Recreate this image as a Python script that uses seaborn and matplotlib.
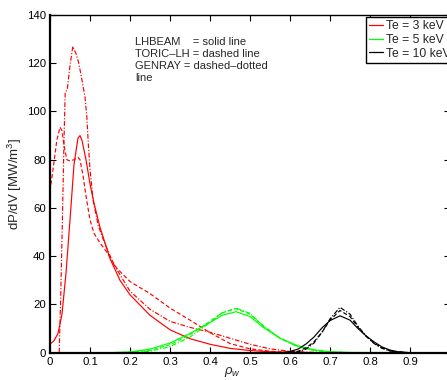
import numpy as np
import pandas as pd
import matplotlib
matplotlib.use('Agg')
import matplotlib.pyplot as plt
import seaborn as sns
from matplotlib.lines import Line2D

# Te = 3 keV (red)
rho_3_lhbeam = [0, 0.01, 0.02, 0.03, 0.04, 0.05, 0.06, 0.07, 0.075, 0.08, 0.09, 0.1, 0.11, 0.125,
                0.15, 0.175, 0.2, 0.25, 0.3, 0.35, 0.4, 0.45, 0.5, 0.55, 0.6, 0.65, 0.7, 1.0]
p_3_lhbeam = [3.5, 5, 8, 16, 33, 55, 78, 89, 90, 88, 80, 70, 62, 52,
              39, 30, 24, 15.5, 9.5, 5.8, 3.5, 1.8, 0.9, 0.4, 0.15, 0.05, 0, 0]

rho_3_toric = [0, 0.01, 0.017, 0.025, 0.03, 0.035, 0.042, 0.05, 0.06, 0.07, 0.075, 0.083, 0.09,
               0.1, 0.11, 0.125, 0.145, 0.167, 0.2, 0.25, 0.3, 0.35, 0.4, 0.45, 0.5, 0.55, 0.6, 0.65, 1.0]
p_3_toric = [67, 79, 88, 93.5, 92, 86, 80, 79.5, 80, 81, 80, 73, 65,
             55, 49.5, 45.5, 41, 35, 29.5, 24.5, 18.5, 13.5, 8.3, 3.8, 1.6, 0.6, 0.1, 0, 0]

rho_3_genray = [0, 0.023, 0.027, 0.031, 0.035, 0.038, 0.043, 0.05, 0.057, 0.065, 0.072, 0.08, 0.0875,
                0.092, 0.096, 0.1, 0.108, 0.12, 0.133, 0.158, 0.2, 0.25, 0.3, 0.35, 0.4, 0.45, 0.5,
                0.55, 0.6, 0.65, 0.7, 1.0]
p_3_genray = [0, 0, 25, 55, 88, 108, 109, 119, 127, 124, 120, 113, 106,
              98, 86, 76, 63, 53, 47, 37, 25.5, 18, 13, 10.5, 8.5, 6, 3.5,
              1.6, 0.6, 0.2, 0, 0]

# Te = 5 keV (green)
rho_5 = [0, 0.15, 0.2, 0.25, 0.3, 0.35, 0.4, 0.43, 0.465, 0.5, 0.533, 0.575, 0.617, 0.66, 0.7, 0.75, 1.0]
p_5_lhbeam = [0, 0, 0.3, 1.5, 4, 8, 12.5, 15.5, 17, 15, 10.5, 6, 3, 1.2, 0.4, 0.1, 0]
p_5_toric = [0, 0, 0.2, 1, 3.3, 7.5, 13, 16.5, 18.3, 16, 11, 6, 2.8, 1, 0.3, 0.05, 0]
p_5_genray = [0, 0, 0.1, 0.6, 2.5, 6.5, 12.5, 16.5, 18.5, 16.3, 11.2, 6, 2.6, 0.9, 0.2, 0, 0]

# Te = 10 keV (black)
rho_10 = [0, 0.58, 0.6, 0.62, 0.64, 0.66, 0.68, 0.7, 0.725, 0.75, 0.77, 0.79, 0.81, 0.83, 0.85, 0.87, 0.9, 1.0]
p_10_lhbeam = [0, 0, 0.5, 1.5, 3.6, 6.5, 10.3, 13.3, 15.3, 13.5, 10, 7, 4.5, 2.4, 1.1, 0.4, 0, 0]
p_10_toric = [0, 0, 0.1, 0.6, 2, 4.5, 8.5, 13.5, 17.5, 15, 10.5, 6.8, 4, 2, 0.8, 0.3, 0, 0]
p_10_genray = [0, 0, 0, 0.3, 1.5, 4, 8.5, 14, 18.8, 16, 11, 7, 3.8, 1.8, 0.7, 0.2, 0, 0]

legend_labels = ['Te = 3 keV', 'Te = 5 keV', 'Te = 10 keV']
colors = ['#ff0000', '#00ff00', '#000000']

sns.set_style('ticks')
plt.rcParams['font.family'] = ['Liberation Sans', 'DejaVu Sans']
plt.rcParams['mathtext.fontset'] = 'custom'
plt.rcParams['mathtext.rm'] = 'Liberation Sans'
plt.rcParams['mathtext.it'] = 'Liberation Sans:italic'
fs = 8.2

fig = plt.figure(figsize=(4.47, 3.8), dpi=100)
ax = fig.add_axes([50 / 447, 27.3 / 380, 400 / 447, 337.7 / 380])

dash = (0, (3.5, 2))
dashdot = (0, (4, 1.5, 1, 1.5))
lw = 0.85

series = [
    (rho_3_lhbeam, p_3_lhbeam, colors[0], '-'),
    (rho_3_toric, p_3_toric, colors[0], dash),
    (rho_3_genray, p_3_genray, colors[0], dashdot),
    (rho_5, p_5_lhbeam, colors[1], '-'),
    (rho_5, p_5_toric, colors[1], dash),
    (rho_5, p_5_genray, colors[1], dashdot),
    (rho_10, p_10_lhbeam, colors[2], '-'),
    (rho_10, p_10_toric, colors[2], dash),
    (rho_10, p_10_genray, colors[2], dashdot),
]
for x, y, c, ls in series:
    sns.lineplot(x=x, y=y, ax=ax, color=c, linestyle=ls, linewidth=lw, sort=False,
                 estimator=None, legend=False)

ax.set_xlim(0, 1)
ax.set_ylim(0, 140)
ax.set_xticks(np.arange(0, 1.01, 0.1))
ax.set_xticklabels(['0', '0.1', '0.2', '0.3', '0.4', '0.5', '0.6', '0.7', '0.8', '0.9', ''])
ax.set_yticks(np.arange(0, 141, 20))
ax.tick_params(direction='in', length=4, width=0.8, top=True, right=True,
               labelsize=fs, colors='black', pad=3)
for s in ax.spines.values():
    s.set_linewidth(1.0)
    s.set_color('black')
ax.spines['left'].set_linewidth(1.6)
ax.spines['bottom'].set_linewidth(1.6)

ax.set_ylabel('dP/dV [MW/m$^3$]', fontsize=9.5)
ax.yaxis.set_label_coords(-0.065, 0.5)
ax.set_xlabel(r'$\rho_w$', fontsize=9.5)
ax.xaxis.set_label_coords(0.4575, -0.035)

ax.text(0.2125, 131, 'LHBEAM    = solid line\nTORIC\u2013LH = dashed line\nGENRAY = dashed\u2013dotted\nline',
        fontsize=8, va='top', ha='left', linespacing=1.25)

handles = [Line2D([], [], color=c, lw=0.9) for c in colors]
leg = fig.legend(handles, legend_labels, loc='upper left', bbox_to_anchor=(366 / 447, 1 - 17 / 380),
                 bbox_transform=fig.transFigure, fontsize=8.7, frameon=True, fancybox=False,
                 handlelength=1.15, handletextpad=0.25, labelspacing=0.15, borderpad=0.25,
                 borderaxespad=0)
leg.get_frame().set_edgecolor('black')
leg.get_frame().set_linewidth(1.0)
leg.get_frame().set_alpha(1)

fig.savefig('out.png', dpi=100)
